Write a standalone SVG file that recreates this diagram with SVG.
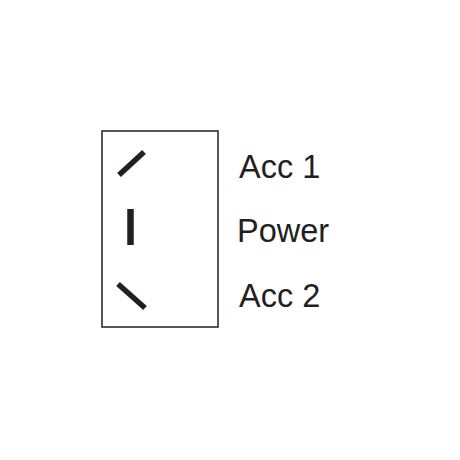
<svg xmlns="http://www.w3.org/2000/svg" width="460" height="460" viewBox="0 0 460 460">
<style>
.lbl{font-family:"Liberation Sans",Arial,sans-serif;font-size:32.5px;fill:#231f20}
.mark{stroke:#231f20;stroke-width:5.5;stroke-linecap:butt;fill:none}
</style>
<rect width="460" height="460" fill="#fff"/>
<g id="switch">
<rect x="102" y="131" width="116" height="196" fill="#fff" stroke="#231f20" stroke-width="1.5"/>
</g>
<g id="connectors">
<line class="mark" x1="119" y1="175" x2="144" y2="152"/>
<line class="mark" x1="130.5" y1="209" x2="130.5" y2="245" style="stroke-width:6.5"/>
<line class="mark" x1="118" y1="284" x2="145" y2="308"/>
</g>
<g id="acc1"><text class="lbl" x="239" y="178">Acc 1</text></g>
<g id="power"><text class="lbl" x="237" y="242">Power</text></g>
<g id="acc2"><text class="lbl" x="239" y="307">Acc 2</text></g>
</svg>
